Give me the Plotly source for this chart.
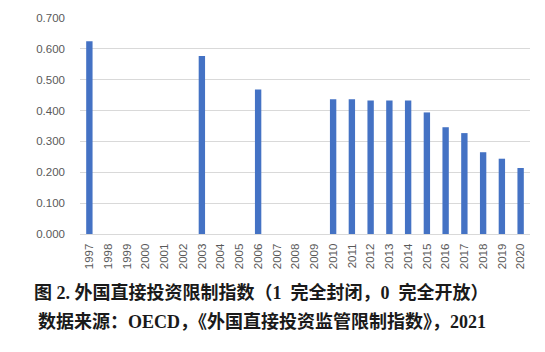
import plotly.graph_objects as go

years = [str(y) for y in range(1997, 2021)]
values = [0.625, None, None, None, None, None, 0.577, None, None, 0.468,
          None, None, None, 0.437, 0.437, 0.433, 0.433, 0.433, 0.394, 0.346,
          0.327, 0.265, 0.244, 0.214]
y_ticks = [0, 0.1, 0.2, 0.3, 0.4, 0.5, 0.6, 0.7]
caption1 = "图 2. 外国直接投资限制指数（1  完全封闭，0  完全开放）"
caption2 = "数据来源：OECD，《外国直接投资监管限制指数》，2021"

fig = go.Figure(go.Bar(x=years, y=values, marker_color="#4472C4",
                       marker_line_width=0))

fig.update_layout(
    width=545, height=352,
    margin=dict(l=80, r=15, t=18, b=118),
    plot_bgcolor="white", paper_bgcolor="white",
    bargap=0.66,
    showlegend=False,
    font=dict(family="Liberation Sans, Arial, sans-serif", color="#595959", size=11.5),
)
fig.update_xaxes(type="category", tickangle=-90, showgrid=False,
                 showline=True, linecolor="#d9d9d9", linewidth=1,
                 ticks="", ticklabelstandoff=4,
                 tickfont=dict(size=11.5, color="#595959"))
fig.update_yaxes(range=[0, 0.7], tickvals=y_ticks, tickformat=".3f",
                 showgrid=True, gridcolor="#d9d9d9", gridwidth=1,
                 zeroline=False, showline=False, ticks="",
                 ticklabelstandoff=14,
                 tickfont=dict(size=11.5, color="#595959"))

cap_font = dict(family="Liberation Serif, Noto Sans CJK SC, serif", size=18, color="#1a1a1a")
fig.add_annotation(text="<b>" + caption1 + "</b>", xref="paper", yref="paper",
                   x=0.404, y=0, xanchor="center", yanchor="middle", yshift=-58,
                   showarrow=False, font=cap_font)
fig.add_annotation(text="<b>" + caption2 + "</b>", xref="paper", yref="paper",
                   x=0.404, y=0, xanchor="center", yanchor="middle", yshift=-87,
                   showarrow=False, font=cap_font)

fig.write_html("out.html")
